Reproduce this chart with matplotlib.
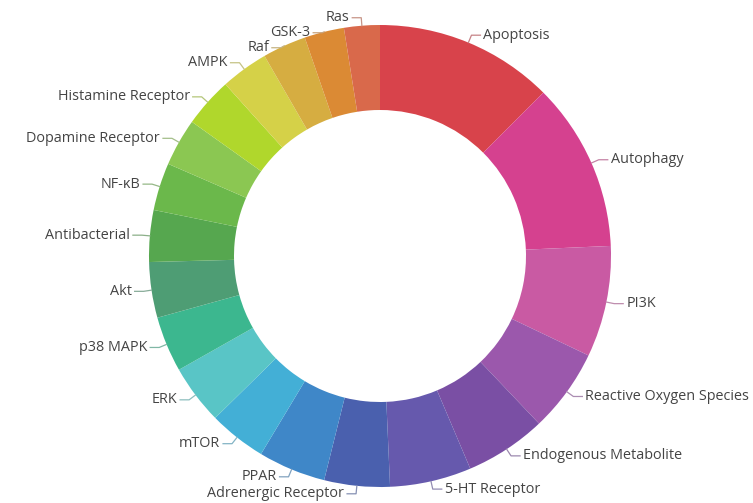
import numpy as np
import matplotlib
matplotlib.use("Agg")
import matplotlib.pyplot as plt
from matplotlib.colors import to_rgb

# slice labels, clockwise from 12 o'clock
labels = [
    "Apoptosis", "Autophagy", "PI3K", "Reactive Oxygen Species",
    "Endogenous Metabolite", "5-HT Receptor", "Adrenergic Receptor", "PPAR",
    "mTOR", "ERK", "p38 MAPK", "Akt", "Antibacterial", "NF-\u03baB",
    "Dopamine Receptor", "Histamine Receptor", "AMPK", "Raf", "GSK-3", "Ras",
]
# values
values = [45, 42.5, 28, 21, 20.5, 20.5, 16.5, 17, 14.5, 15,
          14, 14, 13, 12, 12, 12.5, 12, 11, 10, 9]
colors = [
    "#d8434b", "#d5418f", "#c95aa3", "#9b58ac", "#7a4fa4", "#6659ad",
    "#4a60ae", "#3f87c8", "#43afd6", "#59c5c6", "#3cb78f", "#4e9d74",
    "#56a74f", "#6bb84b", "#8bc752", "#b0d72c", "#d5d148", "#d6ad41",
    "#db8a34", "#d9694b",
]

W, H = 753, 503
cx, cy = 380, H - 256
R, ring = 231, 85

plt.rcParams["font.family"] = ["Open Sans", "DejaVu Sans"]
fig = plt.figure(figsize=(W / 100, H / 100), dpi=100)
ax = fig.add_axes([0, 0, 1, 1])

wedges, _ = ax.pie(values, colors=colors, startangle=90, counterclock=False,
                   radius=R, center=(cx, cy),
                   wedgeprops=dict(width=ring, linewidth=0))
ax.set_xlim(0, W)
ax.set_ylim(0, H)
ax.set_aspect("equal")
ax.axis("off")

# label anchors
info = []
for w, lab, col in zip(wedges, labels, colors):
    a = np.deg2rad((w.theta1 + w.theta2) / 2)
    ex, ey = cx + R * np.cos(a), cy + R * np.sin(a)
    kx, ky = cx + (R + 8) * np.cos(a), cy + (R + 8) * np.sin(a)
    side = 1 if np.cos(a) >= 0 else -1
    info.append([lab, col, ex, ey, kx, ky, side])

# push labels apart on each side (top-down)
gap = 15
for side in (1, -1):
    items = sorted([d for d in info if d[6] == side], key=lambda d: -d[5])
    for i in range(1, len(items)):
        if items[i - 1][5] - items[i][5] < gap:
            items[i][5] = items[i - 1][5] - gap

for lab, col, ex, ey, kx, ky, side in info:
    lc = 0.45 * np.array(to_rgb(col)) + 0.55 * np.array([0.72, 0.72, 0.72])
    tx = kx + side * 9
    ax.plot([ex, kx, tx], [ey, ky, ky], color=lc, lw=0.9)
    ax.text(tx + side * 3, ky, lab, ha="left" if side > 0 else "right",
            va="center", fontsize=10.4, color="#444444")

fig.savefig("out.png", dpi=100)
